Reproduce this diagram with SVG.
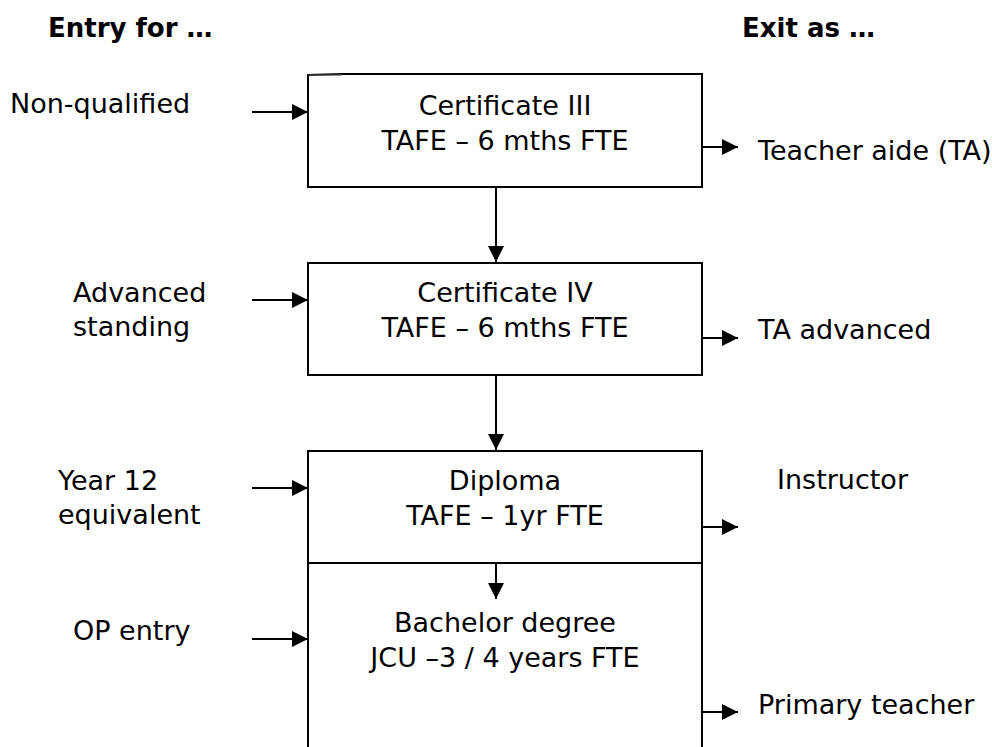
<svg xmlns="http://www.w3.org/2000/svg" width="992" height="747" viewBox="0 0 992 747">
<style>
text{font-family:"DejaVu Sans","Liberation Sans",sans-serif;font-size:27px;fill:#000}
.h{font-weight:bold;font-size:26px}
.c{text-anchor:middle}
.box{fill:#fff;stroke:#000;stroke-width:2}
.ln{fill:none;stroke:#000;stroke-width:2}
</style>
<defs>
<marker id="ah" markerUnits="userSpaceOnUse" markerWidth="17" markerHeight="17" refX="16" refY="8" orient="auto">
<path d="M0,0 L16,8 L0,16 z" fill="#000"/>
</marker>
</defs>
<g id="headings">
<text class="h" x="48" y="37">Entry for …</text>
<text class="h" x="742" y="37">Exit as …</text>
</g>
<g id="entry-labels">
<text x="10" y="113">Non-qualified</text>
<text x="73" y="302">Advanced</text>
<text x="73" y="336">standing</text>
<text x="58" y="490">Year 12</text>
<text x="58" y="524">equivalent</text>
<text x="73" y="640">OP entry</text>
</g>
<g id="exit-labels">
<text x="758" y="160">Teacher aide (TA)</text>
<text x="758" y="339">TA advanced</text>
<text x="777" y="489">Instructor</text>
<text x="758" y="714">Primary teacher</text>
</g>
<g id="cert3">
<path class="box" d="M342,74 L702,74 L702,187 L308,187 L308,75 Z"/>
<line x1="308" y1="75" x2="342" y2="75" stroke="#555" stroke-width="1.2"/>
<text class="c" x="505" y="115">Certificate III</text>
<text class="c" x="505" y="150">TAFE – 6 mths FTE</text>
</g>
<g id="cert4">
<rect class="box" x="308" y="263" width="394" height="112"/>
<text class="c" x="505" y="302">Certificate IV</text>
<text class="c" x="505" y="337">TAFE – 6 mths FTE</text>
</g>
<g id="diploma">
<rect class="box" x="308" y="451" width="394" height="112"/>
<text class="c" x="505" y="490">Diploma</text>
<text class="c" x="505" y="525">TAFE – 1yr FTE</text>
</g>
<g id="bachelor">
<path class="ln" d="M308,563 L308,750 M702,563 L702,750"/>
<text class="c" x="505" y="632">Bachelor degree</text>
<text class="c" x="505" y="667">JCU –3 / 4 years FTE</text>
</g>
<g id="connectors" class="ln">
<line x1="252" y1="112" x2="308" y2="112" marker-end="url(#ah)"/>
<line x1="252" y1="300" x2="308" y2="300" marker-end="url(#ah)"/>
<line x1="252" y1="488" x2="308" y2="488" marker-end="url(#ah)"/>
<line x1="252" y1="639" x2="308" y2="639" marker-end="url(#ah)"/>
<line x1="702" y1="147" x2="738" y2="147" marker-end="url(#ah)"/>
<line x1="702" y1="338" x2="738" y2="338" marker-end="url(#ah)"/>
<line x1="702" y1="527" x2="738" y2="527" marker-end="url(#ah)"/>
<line x1="702" y1="712" x2="738" y2="712" marker-end="url(#ah)"/>
<line x1="496" y1="187" x2="496" y2="262" marker-end="url(#ah)"/>
<line x1="496" y1="375" x2="496" y2="450" marker-end="url(#ah)"/>
<line x1="496" y1="563" x2="496" y2="599" marker-end="url(#ah)"/>
</g>
</svg>
